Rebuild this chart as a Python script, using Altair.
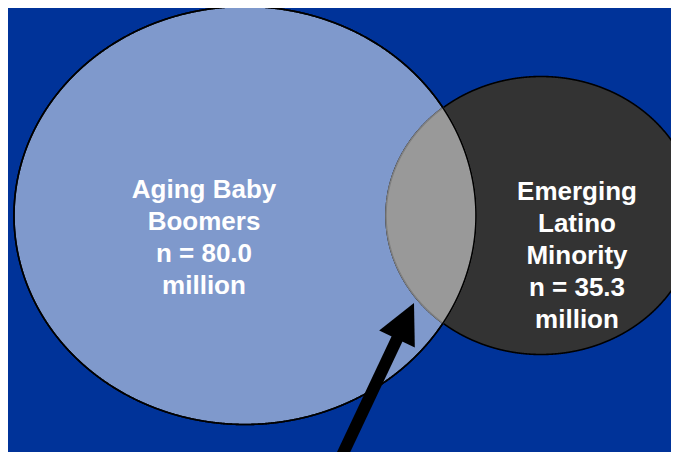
import altair as alt
import numpy as np
import pandas as pd

# ---- chart content -------------------------------------------------------
groups = ["Aging Baby Boomers", "Emerging Latino Minority"]
population_millions = [80.0, 35.3]
label_lines = [
    ["Aging Baby", "Boomers", "n = 80.0", "million"],
    ["Emerging", "Latino", "Minority", "n = 35.3", "million"],
]

# ---- diagram layout (pixel space of the 679x460 picture) -----------------
W, H, M = 679, 460, 8
BIG = dict(cx=245.0, cy=215.5, rx=231.0, ry=209.0)
DARK = dict(cx=541.0, cy=215.5, rx=155.0, ry=139.0)
LABEL_POS = [(204.0, 198.0), (577.0, 200.0)]

BG = "#003399"
BIG_FILL = "#7f99cc"
DARK_FILL = "#333333"
LENS_FILL = "#999999"
LENS_STROKE = "#808080"


def half_h(e, x):
    return e["ry"] * np.sqrt(np.clip(1 - ((x - e["cx"]) / e["rx"]) ** 2, 0, None))


def ellipse_df(e, n=1441):
    t = np.linspace(0, np.pi, n)
    x = e["cx"] + e["rx"] * np.cos(t)
    h = e["ry"] * np.sin(t)
    return pd.DataFrame({"x": x, "top": e["cy"] - h, "bot": e["cy"] + h}).sort_values("x")


def lens_df():
    lo = DARK["cx"] - DARK["rx"]
    hi = BIG["cx"] + BIG["rx"]
    t = np.linspace(0, np.pi, 3001)
    xs = np.concatenate([
        BIG["cx"] + BIG["rx"] * np.cos(t),
        DARK["cx"] + DARK["rx"] * np.cos(t),
        np.linspace(lo, hi, 2000),
    ])
    xs = np.unique(xs[(xs >= lo) & (xs <= hi)])
    top = np.maximum(BIG["cy"] - half_h(BIG, xs), DARK["cy"] - half_h(DARK, xs))
    bot = np.minimum(BIG["cy"] + half_h(BIG, xs), DARK["cy"] + half_h(DARK, xs))
    keep = top <= bot
    return pd.DataFrame({"x": xs[keep], "top": top[keep], "bot": bot[keep]})


# the page has an 8px margin on every side: the visible plot covers
# picture pixels M..W-M horizontally and M..H-M vertically (1:1)
xs_ = alt.Scale(domain=[M, W - M], nice=False, zero=False)
ys_ = alt.Scale(domain=[M, H - M], reverse=True, nice=False, zero=False)


def area(df, **kw):
    return alt.Chart(df).mark_area(clip=True, **kw).encode(
        x=alt.X("x:Q", scale=xs_, axis=None),
        y=alt.Y("top:Q", scale=ys_, axis=None),
        y2="bot:Q",
    )


big_df = ellipse_df(BIG)
dark_df = ellipse_df(DARK)

big = area(big_df, fill=BIG_FILL, stroke="black", strokeWidth=1.6)
dark = area(dark_df, fill=DARK_FILL, stroke="black", strokeWidth=1.6)
lens = area(lens_df(), fill=LENS_FILL, stroke=LENS_STROKE, strokeWidth=1.6)
big_outline = area(big_df, fill=BIG_FILL, fillOpacity=0, stroke="black", strokeWidth=1.6)

# labels
labels_df = pd.DataFrame({
    "group": groups,
    "n": population_millions,
    "label": ["\n".join(l) for l in label_lines],
    "x": [p[0] for p in LABEL_POS],
    "y": [p[1] for p in LABEL_POS],
})
labels = alt.Chart(labels_df).mark_text(
    font="Liberation Sans", fontSize=26, fontWeight="bold", color="white",
    align="center", baseline="alphabetic", lineHeight=32, lineBreak="\n",
).encode(
    x=alt.X("x:Q", scale=xs_, axis=None),
    y=alt.Y("y:Q", scale=ys_, axis=None),
    text="label:N",
)

# arrow pointing at the overlap
tip = np.array([414.0, 303.0])
base_mid = np.array([397.0, 339.0])
d = (tip - base_mid) / np.linalg.norm(tip - base_mid)
head_len = float(np.linalg.norm(tip - base_mid))
shaft_end = base_mid + d * 4
shaft_start = base_mid - d * ((475 - base_mid[1]) / -d[1])
angle = float(np.degrees(np.arctan2(d[0], -d[1])))
center = (tip + base_mid) / 2

shaft_df = pd.DataFrame({"x": [shaft_start[0]], "y": [shaft_start[1]],
                         "x2": [shaft_end[0]], "y2": [shaft_end[1]]})
shaft = alt.Chart(shaft_df).mark_rule(color="black", strokeWidth=12, clip=True).encode(
    x=alt.X("x:Q", scale=xs_, axis=None),
    y=alt.Y("y:Q", scale=ys_, axis=None),
    x2="x2:Q", y2="y2:Q",
)
head_df = pd.DataFrame({"x": [center[0]], "y": [center[1]]})
head = alt.Chart(head_df).mark_point(
    shape="M0,-1L-0.99,1L0.99,1Z", filled=True, fill="black", opacity=1,
    strokeWidth=0, size=head_len ** 2, angle=angle, clip=True,
).encode(
    x=alt.X("x:Q", scale=xs_, axis=None),
    y=alt.Y("y:Q", scale=ys_, axis=None),
)

chart = alt.layer(big, dark, lens, big_outline, labels, shaft, head).properties(
    width=W - 2 * M, height=H - 2 * M,
    autosize=alt.AutoSizeParams(type="fit", contains="padding"),
    padding=0,
    background=BG,
).configure_view(stroke=None)

chart.save("out.html", embed_options={"renderer": "svg", "actions": False})
